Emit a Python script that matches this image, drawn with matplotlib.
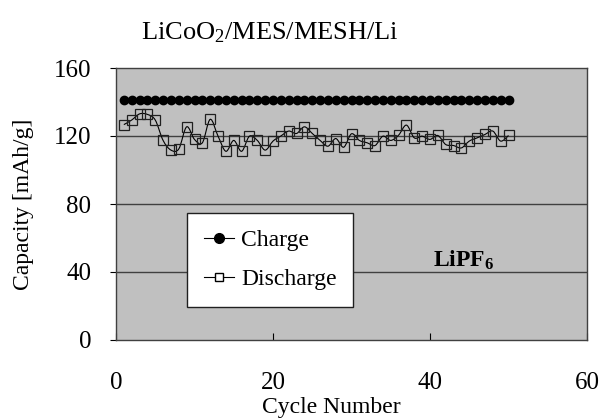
import numpy as np
import matplotlib
matplotlib.use("Agg")
from matplotlib import pyplot as plt
from matplotlib.path import Path
from matplotlib.patches import PathPatch
from matplotlib.lines import Line2D

cycles = list(range(1, 51))
charge = [141] * 50
discharge = [126.7, 129.4, 133.0, 132.7, 129.4, 117.4, 111.7, 112.4, 125.4, 118.0,
             116.0, 129.8, 119.9, 111.0, 117.4, 111.0, 119.9, 117.4, 111.7, 117.0,
             120.0, 122.9, 121.5, 125.4, 121.5, 117.4, 114.0, 118.5, 113.4, 121.3,
             117.4, 116.0, 114.4, 119.9, 117.4, 120.5, 126.4, 118.9, 119.9, 118.0,
             120.3, 115.0, 114.4, 113.0, 117.0, 118.9, 120.9, 122.9, 117.0, 120.3]


def smooth_path(x, y):
    # excel-like smoothed line (catmull-rom as cubic bezier)
    x = np.asarray(x, float)
    y = np.asarray(y, float)
    verts = [(x[0], y[0])]
    codes = [Path.MOVETO]
    n = len(x)
    for i in range(n - 1):
        x0, y0 = (x[i - 1], y[i - 1]) if i > 0 else (x[i], y[i])
        x3, y3 = (x[i + 2], y[i + 2]) if i + 2 < n else (x[i + 1], y[i + 1])
        c1 = (x[i] + (x[i + 1] - x0) / 6, y[i] + (y[i + 1] - y0) / 6)
        c2 = (x[i + 1] - (x3 - x[i]) / 6, y[i + 1] - (y3 - y[i]) / 6)
        verts += [c1, c2, (x[i + 1], y[i + 1])]
        codes += [Path.CURVE4] * 3
    return Path(verts, codes)


plt.rcParams["font.family"] = ["Liberation Serif", "DejaVu Serif"]
plt.rcParams["mathtext.fontset"] = "custom"
plt.rcParams["mathtext.rm"] = "Liberation Serif"
plt.rcParams["mathtext.bf"] = "Liberation Serif:bold"
plt.rcParams["mathtext.default"] = "rm"

fig = plt.figure(figsize=(6.02, 4.19), dpi=100)
ax = fig.add_axes([116 / 602, 1 - 340 / 419, 471 / 602, 272 / 419])
ax.set_facecolor("#c0c0c0")

for g in [40, 80, 120]:
    ax.axhline(g, color="#404040", linewidth=1.0, zorder=1)

ax.plot(cycles, charge, color="black", linewidth=0.8, marker="o",
        markersize=6, markerfacecolor="black", markeredgecolor="black", zorder=3)
ax.add_patch(PathPatch(smooth_path(cycles, discharge), facecolor="none",
                       edgecolor="black", linewidth=0.8, zorder=3))
ax.plot(cycles, discharge, linestyle="none", marker="s", markersize=7,
        markerfacecolor="none", markeredgecolor="#202020",
        markeredgewidth=0.9, zorder=4)

ax.set_xlim(0, 60)
ax.set_ylim(0, 160)
ax.set_xticks([0, 20, 40, 60])
ax.set_yticks([0, 40, 80, 120, 160])
ax.tick_params(axis="x", direction="in", length=5, pad=23, labelsize=18)
ax.tick_params(axis="y", direction="out", length=4, pad=14, labelsize=18)
for s in ax.spines.values():
    s.set_color("#404040")
    s.set_linewidth(1.0)

fig.text(270 / 602, 1 - 33 / 419, "LiCoO$_2$/MES/MESH/Li", fontsize=19,
         ha="center", va="center")
ax.set_xlabel("Cycle Number", fontsize=17, va="center")
ax.xaxis.set_label_coords(0.458, -(407 - 340) / 272)
ax.set_ylabel("Capacity [mAh/g]", fontsize=17, va="center")
ax.yaxis.set_label_coords(-(116 - 23) / 471, 0.5)

handles = [
    Line2D([], [], color="black", linewidth=0.8, marker="o", markersize=7,
           markerfacecolor="black"),
    Line2D([], [], color="black", linewidth=0.8, marker="s", markersize=6,
           markerfacecolor="white"),
]
leg = ax.legend(handles, ["Charge", "Discharge"], loc="upper left",
                bbox_to_anchor=(71 / 471, 127 / 272), fontsize=17,
                frameon=True, fancybox=False, handlelength=1.3,
                handletextpad=0.3, labelspacing=0.75, borderpad=0.7,
                borderaxespad=0)
leg.get_frame().set_edgecolor("#202020")
leg.get_frame().set_facecolor("white")
leg.get_frame().set_alpha(1)

ax.text(44.3, 47, r"LiPF$_\mathbf{6}$", fontsize=17, fontweight="bold",
        ha="center", va="center")

plt.savefig("out.png", dpi=100)
